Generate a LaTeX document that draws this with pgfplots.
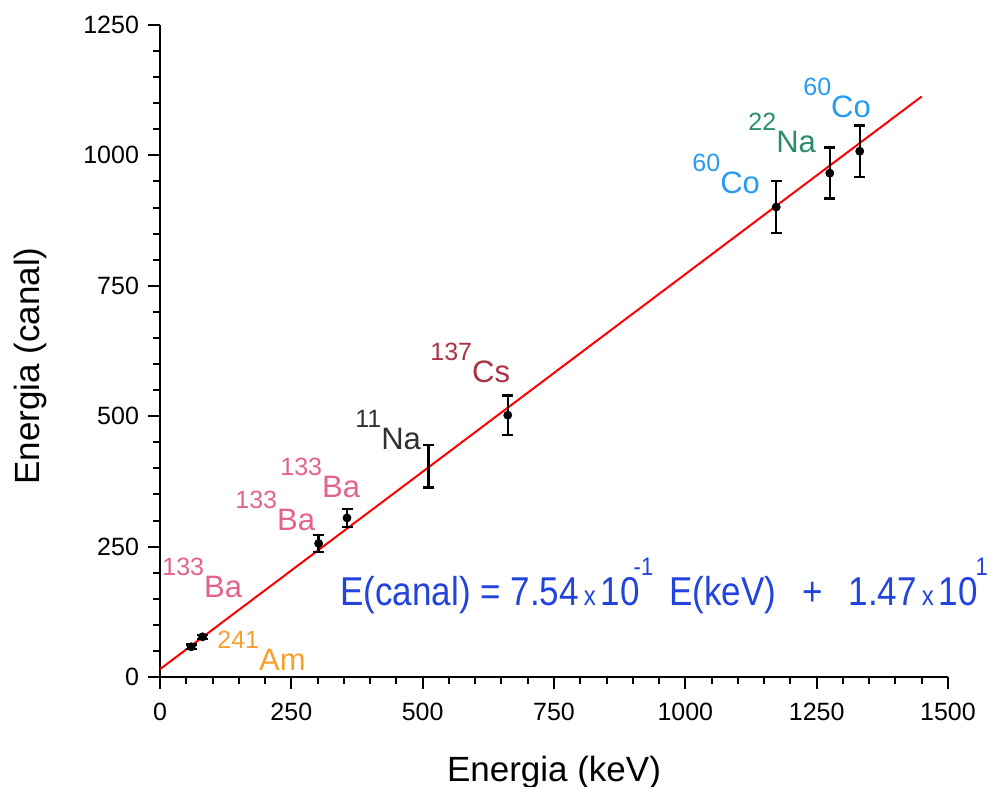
\documentclass[border=0pt]{standalone}
\usepackage{fontspec}
\setmainfont{Liberation Sans}
\usepackage{pgfplots}
\pgfplotsset{compat=1.18}
\definecolor{bacol}{RGB}{228,99,142}
\definecolor{nacol}{RGB}{48,48,48}
\definecolor{cscol}{RGB}{170,51,68}
\definecolor{cocol}{RGB}{40,155,240}
\definecolor{natcol}{RGB}{42,140,108}
\definecolor{amcol}{RGB}{247,160,48}
\definecolor{eqcol}{RGB}{34,68,221}
\newcommand{\iso}[2]{\raisebox{11pt}{\fontsize{12.5}{12.5}\selectfont #1}#2}
\newcommand{\smx}{\hspace{2.5pt}{\fontsize{12}{12}\selectfont x}\hspace{2.5pt}}
\newcommand{\eqsup}[1]{\raisebox{13pt}{\fontsize{11}{11}\selectfont #1}}
\begin{document}
\begin{tikzpicture}
\useasboundingbox (-80pt,-55pt) rectangle (416pt,338.5pt);
\begin{axis}[
  scale only axis, width=394pt, height=326pt,
  xmin=0, xmax=1500, ymin=0, ymax=1250,
  axis x line*=bottom, axis y line*=left,
  axis line style={line width=1.2pt,-},
  xtick={0,250,...,1500}, ytick={0,250,...,1250},
  minor tick num=4,
  tick align=outside,
  major tick length=6pt, minor tick length=3.5pt,
  tick style={black, line width=1pt},
  tick label style={font=\fontsize{12.5}{12.5}\selectfont},
  xticklabel style={yshift=-3.5pt},
  yticklabel style={xshift=-1pt},
  /pgf/number format/assume math mode=true,
  /pgf/number format/1000 sep={},
  xlabel={Energia (keV)}, ylabel={Energia (canal)},
  every axis x label/.style={at={(rel axis cs:0.5,0)}, yshift=-47.5pt, anchor=center, font=\fontsize{17.5}{17.5}\selectfont},
  every axis y label/.style={at={(rel axis cs:0,0.477)}, xshift=-65pt, rotate=90, anchor=center, font=\fontsize{17.5}{17.5}\selectfont},
  clip=false,
]
\addplot[red, line width=1pt, no marks] coordinates {(0,15) (1450,1113)};
\addplot[black, mark=none, draw=none, error bars/.cd, y dir=both, y explicit,
  error bar style={line width=1.2pt, black}, error mark options={rotate=90, mark size=2.75pt, line width=1.2pt, black}]
  table[y error=e] {
x y e
511 404 41
};
\addplot[only marks, mark=*, mark size=2pt, black, error bars/.cd, y dir=both, y explicit,
  error bar style={line width=1.2pt, black}, error mark options={rotate=90, mark size=2.75pt, line width=1.2pt, black}]
  table[y error=e] {
x y e
59.5 58 4
81 77 4
302 256 16
356 305 17
662 502 38
1173 901 50
1275 966 49
1332 1008 49
};
\begin{scope}[every node/.style={inner sep=0pt, anchor=base west, font=\fontsize{15.5}{15.5}\selectfont}]
\node[text=bacol] at (axis cs:3.8,151.5) {\iso{133}{Ba}};
\node[text=bacol] at (axis cs:142.8,281.8) {\iso{133}{Ba}};
\node[text=bacol] at (axis cs:228.4,343.2) {\iso{133}{Ba}};
\node[text=nacol] at (axis cs:371.2,435.2) {\iso{11}{Na}};
\node[text=cscol] at (axis cs:514,563.7) {\iso{137}{Cs}};
\node[text=cocol] at (axis cs:1012.8,927.9) {\iso{60}{Co}};
\node[text=natcol] at (axis cs:1119.4,1006.5) {\iso{22}{Na}};
\node[text=cocol] at (axis cs:1224,1073.6) {\iso{60}{Co}};
\node[text=amcol] at (axis cs:108.5,13.4) {\iso{241}{Am}};
\end{scope}
\node[inner sep=0pt, anchor=base west, text=eqcol, font=\fontsize{17.5}{17.5}\selectfont] at (axis cs:342.7,138)
  {\scalebox{1}[1.15]{E(canal) = 7.54\smx10\hspace{-3pt}\eqsup{-1}\hspace{8pt}E(keV)\hspace{13pt}+\hspace{13pt}1.47\smx10\hspace{-1pt}\eqsup{1}}};
\end{axis}
\end{tikzpicture}
\end{document}
